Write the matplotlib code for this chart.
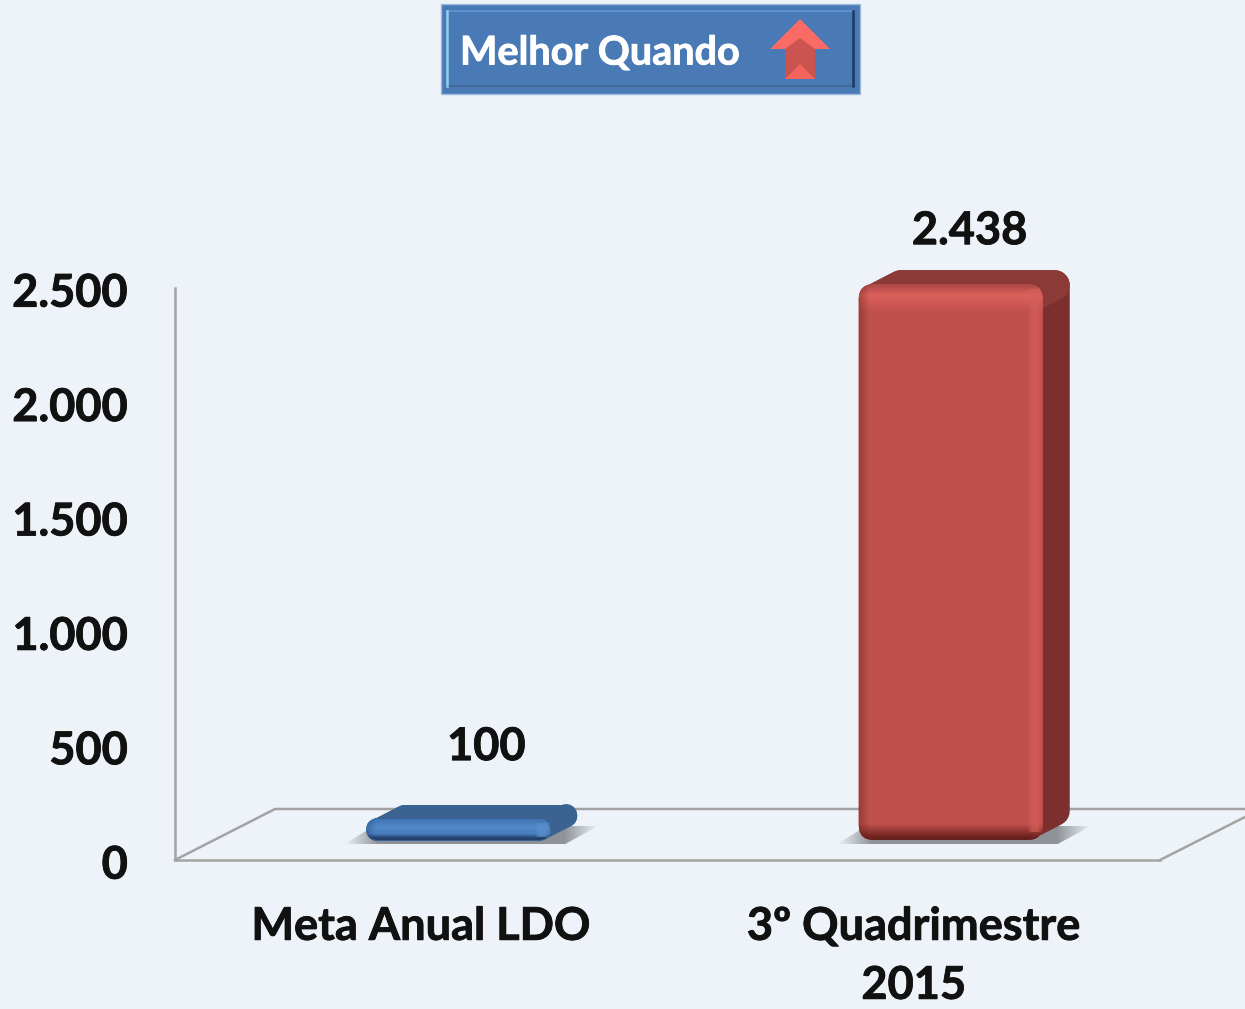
import numpy as np
import matplotlib
matplotlib.use('Agg')
import matplotlib.pyplot as plt
import matplotlib.patheffects as pe
from matplotlib.colors import to_rgb
from matplotlib.patches import FancyBboxPatch, Polygon, Rectangle
from matplotlib.transforms import ScaledTranslation

categories = ['Meta Anual LDO', '3º Quadrimestre\n2015']
values = [100, 2438]
value_labels = ['100', '2.438']
y_ticks = [0, 500, 1000, 1500, 2000, 2500]
y_tick_labels = ['0', '500', '1.000', '1.500', '2.000', '2.500']
button_text = 'Melhor Quando'

W, H = 1245, 1009
BG = '#eef3fa'
AXIS = '#a3a3a3'
FONT = 'Lato'
INK = '#111111'

# (top start, highlight, body, bottom dark, side, top face, right strip)
bar_colors = [
    ('#3f74b2', '#5289ca', '#4a80c0', '#24426b', '#3c6899', '#3a6391', '#5b90cf'),
    ('#a84744', '#dd615d', '#c0504d', '#68201c', '#7b302d', '#8c3a37', '#d65e5a'),
]
bar_radius = [11, 15]
label_shift = [(65, -72), (56, -53)]


def gradient(stops, n):
    # stops are (pixel, colour) going down the bar
    pos = [s[0] for s in stops]
    rgb = np.array([to_rgb(s[1]) for s in stops])
    rows = np.arange(n) + 0.5
    return np.stack([np.interp(rows, pos, rgb[:, i]) for i in range(3)], axis=1)


def heavy(t, color=INK):
    # the original face is heavier than Lato bold
    t.set_path_effects([pe.withStroke(linewidth=0.6, foreground=color)])


fig = plt.figure(figsize=(W / 100, H / 100), dpi=100, facecolor=BG)
ax = fig.add_axes([175 / W, 1 - 860 / H, 985 / W, 572 / H], facecolor='none')
ax.set_xlim(-0.5, 1.5)
ax.set_ylim(0, 2500)
ax.set_xticks(range(len(categories)))
ax.set_xticklabels(categories, fontsize=32.5, fontweight='bold', family=FONT,
                   color=INK, linespacing=1.5)
ax.set_yticks(y_ticks)
ax.set_yticklabels(y_tick_labels, fontsize=32.5, fontweight='bold', family=FONT, color=INK)
ax.tick_params(axis='x', length=0, pad=33)
ax.tick_params(axis='y', length=0, pad=34)
down = ScaledTranslation(0, -1.2 / 72, fig.dpi_scale_trans)
for t in ax.get_yticklabels():
    t.set_transform(t.get_transform() + down)
    heavy(t)
for t in ax.get_xticklabels():
    heavy(t)
for side in ['top', 'right']:
    ax.spines[side].set_visible(False)
for side in ['left', 'bottom']:
    ax.spines[side].set_color(AXIS)
    ax.spines[side].set_linewidth(1.8)

# overlay in image pixels, for the 3d parts
px = fig.add_axes([0, 0, 1, 1], facecolor='none')
px.set_xlim(0, W)
px.set_ylim(H, 0)
px.axis('off')

# floor
px.plot([175, 275, W], [860, 809, 809], color=AXIS, lw=1.8, zorder=1)
px.plot([1160, W], [860, 817], color=AXIS, lw=1.8, zorder=1)

DX, DY = 37, 20      # front of the bar sits this far into the floor
SX, SY = 27, 14      # depth of the bar
BAR_W = 184

for i, v in enumerate(values):
    cx, base = ax.transData.transform((i, 0))
    _, top = ax.transData.transform((i, v))
    x0 = cx + DX - BAR_W / 2
    x1 = x0 + BAR_W
    y1 = H - base - DY
    y0 = H - top - DY + 2
    h = y1 - y0
    r = bar_radius[i]
    c_top, c_hi, c_body, c_dark, c_side, c_face, c_strip = bar_colors[i]

    # shadow on the floor
    shadow = Polygon([(x0 - 22, y1 + 4), (x1 + 15, y1 + 4), (x1 + 48, y1 - 14), (x0 + 8, y1 - 14)],
                     fc='none', ec='none')
    px.add_patch(shadow)
    sw = int(BAR_W + 70)
    a = np.clip(np.minimum(np.arange(sw), sw - np.arange(sw)) / 34, 0, 1) * 0.7
    img = np.zeros((1, sw, 4))
    img[..., :3] = to_rgb('#666a70')
    img[..., 3] = a
    im = px.imshow(img, extent=(x0 - 22, x1 + 48, y1 + 4, y1 - 14), aspect='auto', zorder=2)
    im.set_clip_path(shadow)

    # back silhouette (round joins make the corners round)
    lw = 2 * r * 0.72
    px.add_patch(Polygon([(x0 + r, y1 - r), (x0 + r, y0 + r), (x0 + r + SX, y0 + r - SY),
                          (x1 - r + SX, y0 + r - SY), (x1 - r + SX, y1 - r - SY), (x1 - r, y1 - r)],
                         fc=c_side, ec=c_side, lw=lw, joinstyle='round', zorder=3))
    # top face
    px.add_patch(Polygon([(x0 + r, y0 + r), (x0 + r + SX, y0 + r - SY),
                          (x1 - r + SX, y0 + r - SY), (x1 - r, y0 + r)],
                         fc=c_face, ec=c_face, lw=lw, joinstyle='round', zorder=3))

    # front face with vertical shading, clipped to a rounded box
    box = FancyBboxPatch((x0 + r, y0 + r), BAR_W - 2 * r, h - 2 * r,
                         boxstyle='round,pad=%f,rounding_size=%f' % (r, r),
                         fc=c_body, ec='none', zorder=4)
    px.add_patch(box)
    n = max(int(round(h)), 2)
    hi = min(11, h * 0.4)
    low = min(16, h * 0.3)
    stops = [(0, c_top), (hi, c_hi), (min(28, h * 0.62), c_body),
             (h - low, c_body), (h - 2, c_dark), (h, c_dark)]
    grad = gradient(stops, n).reshape(n, 1, 3)
    im = px.imshow(grad, extent=(x0, x1, y1, y0), aspect='auto', zorder=4.1)
    im.set_clip_path(box)

    # side strips of the bevel
    strip = np.zeros((1, int(BAR_W), 4))
    strip[..., :3] = to_rgb(c_strip)
    cols = np.arange(int(BAR_W))
    strip[..., 3] = np.interp(cols, [BAR_W - 16, BAR_W - 11, BAR_W - 6, BAR_W - 1], [0, 0.7, 0.7, 0.0])
    im = px.imshow(strip, extent=(x0, x1, y1 - low * 0.5, y0 + hi * 0.5), aspect='auto', zorder=4.2)
    im.set_clip_path(box)
    edge = np.zeros((1, int(BAR_W), 4))
    edge[..., :3] = to_rgb(c_dark)
    edge[..., 3] = np.interp(cols, [0, 10], [0.4, 0])
    im = px.imshow(edge, extent=(x0, x1, y1, y0), aspect='auto', zorder=4.2)
    im.set_clip_path(box)

    sx, sy = label_shift[i]
    t = px.text(cx + sx, y0 + sy, value_labels[i], ha='center', va='center', fontsize=32.5,
                fontweight='bold', family=FONT, color=INK, zorder=6)
    heavy(t)

# button on top
px.add_patch(Rectangle((441, 4), 419, 90, fc='#4a7ab5', ec='#9dbbdc', lw=1, zorder=5))
px.add_patch(Rectangle((446, 11), 408, 75, fc='#4a7ab5', ec='none', zorder=5.1))
px.plot([447, 853], [11, 11], color='#5f90cf', lw=1.5, zorder=5.2)
px.plot([447, 853], [86, 86], color='#41699c', lw=1.5, zorder=5.2)
px.plot([447, 447], [11, 86], color='#8fd0f2', lw=1.8, zorder=5.2)
px.plot([853, 853], [11, 86], color='#1f3a60', lw=1.8, zorder=5.2)
t = px.text(460, 53, button_text, ha='left', va='center', fontsize=28.5, fontweight='bold',
            family=FONT, color='white', zorder=6)
heavy(t, 'white')

# arrow
px.add_patch(Polygon([(800, 19), (830, 49), (770, 49)], fc='#fb6b65', ec='none', zorder=6))
px.add_patch(Polygon([(785, 49), (815, 49), (815, 79), (785, 79)], fc='#cb5450', ec='none', zorder=6))
px.add_patch(Polygon([(785, 49), (800, 38), (815, 49)], fc='#cb5450', ec='none', zorder=6))
px.add_patch(Polygon([(800, 64), (815, 79), (785, 79)], fc='#f4645f', ec='none', zorder=6.1))

px.set_xlim(0, W)
px.set_ylim(H, 0)

fig.savefig('out.png', dpi=100, facecolor=BG)
